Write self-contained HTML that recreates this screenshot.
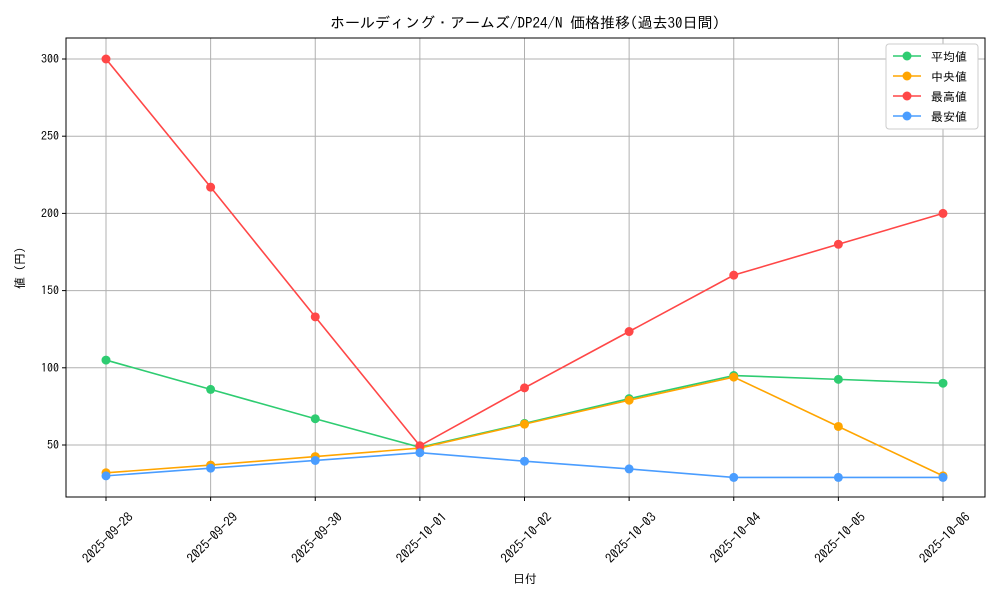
<!DOCTYPE html>
<html><head><meta charset="utf-8"><style>
body{margin:0;background:#fff}
text{font-family:"IPAGothic","Noto Sans CJK JP",monospace;fill:#000}
</style></head><body>
<svg id="c" width="1000" height="600" xmlns="http://www.w3.org/2000/svg">
<text x="525" y="28" text-anchor="middle" font-size="15">ホールディング・アームズ/DP24/N 価格推移(過去30日間)</text>
<g id="grid"></g><g id="axes"></g><g id="series"></g>
<text x="525" y="583" text-anchor="middle" font-size="12">日付</text>
<text transform="translate(24,268) rotate(-90)" text-anchor="middle" font-size="12">値 (円)</text>
<g id="legend"></g>
</svg>
<script>
const categories=["2025-09-28","2025-09-29","2025-09-30","2025-10-01","2025-10-02","2025-10-03","2025-10-04","2025-10-05","2025-10-06"];
const avgValues=[105,86,67,48.5,64,80,95,92.5,90];
const medianValues=[32,37,42.5,48,63.5,79,94,62,30];
const maxValues=[300,217,133,49.5,87,123.5,160,180,200];
const minValues=[30,35,40,45,39.5,34.5,29,29,29];
const yTicks=[50,100,150,200,250,300];
const seriesNames=["平均値","中央値","最高値","最安値"];
const colors=["#2ecc71","#ffa500","#ff4747","#4a9dff"];
const L=66,R=985,T=38,B=497;
const x=i=>106+i*(943-106)/(categories.length-1);
const y=v=>445-(v-50)*(386/250);
const NS="http://www.w3.org/2000/svg";
function mk(p,tag,a){const e=document.createElementNS(NS,tag);for(const k in a)e.setAttribute(k,a[k]);p.appendChild(e);return e;}
const g=document.getElementById('grid'),ax=document.getElementById('axes'),s=document.getElementById('series'),lg=document.getElementById('legend');
categories.forEach((c,i)=>{
 const l=mk(g,'line',{x1:x(i),x2:x(i),y1:T,y2:B,stroke:'#b0b0b0','stroke-width':1});
 
 
 mk(ax,'line',{x1:x(i),x2:x(i),y1:B,y2:B+4,stroke:'#000'});
 const t=mk(ax,'text',{x:0,y:4,'font-size':13,'text-anchor':'middle',transform:`translate(${x(i)+2},${538}) rotate(-45)`});
 t.textContent=c;
 
 
});
yTicks.forEach(v=>{
 const l=mk(g,'line',{x1:L,x2:R,y1:y(v),y2:y(v),stroke:'#b0b0b0','stroke-width':1});
 
 
 mk(ax,'line',{x1:L-4,x2:L,y1:y(v),y2:y(v),stroke:'#000'});
 const t=mk(ax,'text',{x:L-7,y:y(v)+4,'font-size':12,'text-anchor':'end'});
 t.textContent=v;
 
 
});
const fr=mk(ax,'rect',{x:L,y:T,width:R-L,height:B-T,fill:'none',stroke:'#000'});


const all=[avgValues,medianValues,maxValues,minValues];
const sn=['avg','median','max','min'];
all.forEach((d,k)=>{
 const p=mk(s,'polyline',{points:d.map((v,i)=>x(i)+','+y(v)).join(' '),fill:'none',stroke:colors[k],'stroke-width':1.6});
 
 
 d.forEach((v,i)=>{
  const c=mk(s,'circle',{cx:x(i),cy:y(v),r:4.5,fill:colors[k]});
  
  
 });
});
const lb=mk(lg,'rect',{x:886,y:44,width:92,height:85,fill:'#fff',stroke:'#ccc',rx:3});


seriesNames.forEach((n,k)=>{
 const yy=56+k*20;
 const e=mk(lg,'g',{});
 
 
 mk(e,'line',{x1:893,x2:921,y1:yy,y2:yy,stroke:colors[k],'stroke-width':1.6});
 mk(e,'circle',{cx:907,cy:yy,r:4.5,fill:colors[k]});
 const t=mk(e,'text',{x:931,y:yy+5,'font-size':12});
 t.textContent=n;
});
</script>
</body></html>
